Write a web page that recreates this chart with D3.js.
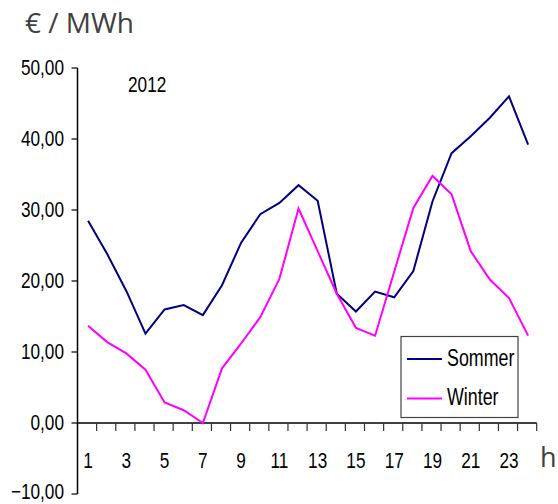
<!DOCTYPE html>
<html>
<head>
<meta charset="utf-8">
<script src="https://cdn.jsdelivr.net/npm/d3@7"></script>
<style>
  html, body { margin: 0; padding: 0; background: #fff; }
  svg { display: block; }
  .num { font-family: "Liberation Sans", Arial, sans-serif; font-size: 21px; fill: #000; }
  .unit { font-family: "Open Sans", "Noto Sans", sans-serif; fill: #404040; }
</style>
</head>
<body>
<svg id="chart" width="558" height="504"></svg>
<script>
const hours = d3.range(1, 25);
const sommer = [28.5, 23.8, 18.6, 12.6, 16.0, 16.6, 15.2, 19.4, 25.4, 29.4, 31.0, 33.5, 31.3, 18.2, 15.7, 18.5, 17.7, 21.4, 31.2, 38.0, 40.4, 43.0, 46.0, 39.2];
const winter = [13.7, 11.4, 9.8, 7.5, 2.9, 1.8, 0.0, 7.7, 11.2, 14.9, 20.3, 30.2, 24.2, 18.2, 13.4, 12.3, 21.3, 30.3, 34.8, 32.2, 24.2, 20.2, 17.6, 12.3];
const yTicks = [-10, 0, 10, 20, 30, 40, 50];
const xLabels = [1, 3, 5, 7, 9, 11, 13, 15, 17, 19, 21, 23];
const seriesNames = ["Sommer", "Winter"];
const seriesColors = ["#000080", "#ff00ff"];
const yearLabel = "2012";
const unitLabel = "€ / MWh";
const xUnit = "h";

const svg = d3.select("#chart");
const axisX0 = 77.5, axisX1 = 536.7;
const y = d3.scaleLinear().domain([-10, 50]).range([494, 68]);
const x = d3.scaleBand().domain(hours).range([axisX0, axisX1]).padding(0);
const cx = h => x(h) + x.bandwidth() / 2;
const SX = 0.82, SY = 1.05;

// y axis line
svg.append("line").attr("x1", axisX0).attr("x2", axisX0).attr("y1", y(50)).attr("y2", y(-10))
  .attr("stroke", "#000").attr("stroke-width", 1.5);
// y ticks and labels
yTicks.forEach(t => {
  svg.append("line").attr("x1", axisX0 - 6).attr("x2", axisX0).attr("y1", y(t)).attr("y2", y(t))
    .attr("stroke", "#000").attr("stroke-width", 1.2);
  const by = Math.min(y(t) + 6.5, 499);
  const g = svg.append("g").attr("transform", `translate(64,${by}) scale(${SX},${SY})`);
  g.append("text").attr("class", "num").attr("text-anchor", "end")
    .text(d3.format(".2f")(t).replace(".", ","));
});

// x axis line
svg.append("line").attr("x1", axisX0).attr("x2", axisX1).attr("y1", y(0)).attr("y2", y(0))
  .attr("stroke", "#000").attr("stroke-width", 1.5);
hours.forEach(h => {
  const xx = x(h) + x.bandwidth();
  svg.append("line").attr("x1", xx).attr("x2", xx).attr("y1", y(0)).attr("y2", y(0) + 8)
    .attr("stroke", "#333").attr("stroke-width", 1.2);
});
xLabels.forEach(h => {
  const g = svg.append("g").attr("transform", `translate(${cx(h) + 1},468) scale(${SX},${SY})`);
  g.append("text").attr("class", "num").attr("text-anchor", "middle").text(h);
});

// lines
const line = d3.line().x((d, i) => cx(hours[i]) + 1).y(d => y(d));
[sommer, winter].forEach((s, k) => {
  svg.append("path").datum(s).attr("d", line).attr("fill", "none")
    .attr("stroke", seriesColors[k]).attr("stroke-width", 2).attr("stroke-linejoin", "miter");
});

// texts
svg.append("text").attr("class", "unit").attr("x", 25).attr("y", 33).attr("font-size", 28).text(unitLabel);
svg.append("text").attr("class", "unit").attr("x", 540).attr("y", 467).attr("font-size", 27).text(xUnit);
svg.append("g").attr("transform", `translate(128,92) scale(${SX},${SY})`)
  .append("text").attr("class", "num").text(yearLabel);

// legend
const lg = svg.append("g");
lg.append("rect").attr("x", 401).attr("y", 336.5).attr("width", 117).attr("height", 81)
  .attr("fill", "#fff").attr("stroke", "#444").attr("stroke-width", 1.2);
seriesNames.forEach((n, k) => {
  const ly = [359, 398.5][k];
  lg.append("line").attr("x1", 407).attr("x2", 442).attr("y1", ly).attr("y2", ly)
    .attr("stroke", seriesColors[k]).attr("stroke-width", 2);
  lg.append("g").attr("transform", `translate(447,${ly + 6.5}) scale(0.81,1.12)`)
    .append("text").attr("class", "num").style("font-size", "22px").text(n);
});
</script>
</body>
</html>
